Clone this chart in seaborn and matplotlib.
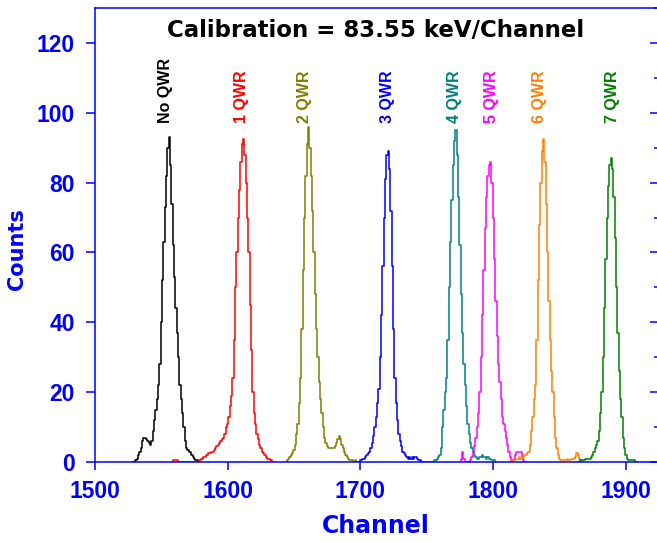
import numpy as np
import pandas as pd
import seaborn as sns
import matplotlib.pyplot as plt
from matplotlib.ticker import MultipleLocator

# spectra: counts per channel, one run per QWR count
runs = ['No QWR', '1 QWR', '2 QWR', '3 QWR', '4 QWR', '5 QWR', '6 QWR', '7 QWR']
colors = ['#000000', '#ff0000', '#808000', '#0000ff', '#008080', '#ff00ff', '#ff8000', '#008000']
first_channel = [1528, 1558, 1643, 1698, 1754, 1775, 1813, 1864]
label_channel = [1553, 1610, 1658, 1720, 1771, 1799, 1835, 1889.5]

counts_no = [0, 0, 0, 0.5, 1, 2, 3, 4, 6, 7, 7, 6.5, 6, 5.5, 5, 6, 9, 12, 15, 18, 22, 28,
             40, 52, 63, 73, 82, 90, 93, 85, 74, 62, 53, 44, 37, 30, 22, 18, 14, 10, 6, 4,
             3.5, 3, 3, 2, 1.5, 1, 0.5, 0.5, 0, 0]
counts_1 = [0, 0.5, 0.5, 0.5, 0.5, 0, 0, 0, 0, 0, 0, 0, 0, 0, 0, 0, 0, 0, 0, 0, 0, 0.5,
            1, 1, 1.5, 1.5, 2, 2, 2.5, 2.5, 3, 3, 3.5, 4, 4.5, 5, 5.5, 6, 6.5, 7, 8, 10, 11,
            13, 16, 19, 24, 35, 50, 60, 70, 78, 86, 91, 92.5, 88, 80, 70, 60, 45, 32, 20,
            14, 11, 8, 6.5, 5, 4, 3, 2.5, 2, 1.5, 1, 1, 0.5, 0.5, 0, 0]
counts_2 = [0, 0, 0.5, 1, 1.5, 2, 2.5, 3.5, 5, 8, 11, 17, 24, 38, 55, 70, 82, 91, 96, 90,
            82, 72, 60, 48, 38, 30, 23, 18, 14, 10, 7, 5.5, 4.5, 4, 4, 4, 4, 4, 4.5, 5.5,
            6.5, 7.5, 6.5, 5, 4, 3, 2, 1.5, 1, 0.5, 0.5, 0.5, 0, 0.5, 0]
counts_3 = [0, 0, 0.5, 0.5, 1, 1, 1.5, 2, 2.5, 3, 4, 5.5, 7.5, 10, 13, 17, 21, 30, 42, 56,
            70, 81, 88, 89, 84, 72, 56, 38, 24, 17, 12, 8, 6, 4.5, 3, 2.5, 2, 1.5, 1, 1.5,
            1, 1.5, 1, 1.5, 1.5, 1, 0.5, 0.5, 0, 0, 0, 0, 0, 0, 0, 0, 0, 0, 0, 0]
counts_4 = [0, 0, 0.5, 0.5, 1, 1.5, 2, 4, 10, 15, 20, 24, 35, 50, 63, 75, 85, 92, 95, 88,
            76, 62, 48, 37, 28, 22, 16, 11, 8, 5.5, 4, 3, 2, 1.5, 1, 1, 1.5, 1.5, 2, 1.5,
            1.5, 1, 1.5, 1, 1, 0.5, 0.5, 0.5, 0, 0]
counts_5 = [0, 1, 3, 1, 0, 0, 0, 0, 0.5, 1.5, 3, 4.5, 7, 10, 14, 20, 30, 42, 55, 67, 76,
            82, 85, 86, 80, 70, 58, 46, 36, 28, 23, 18, 13, 11, 9, 7, 5, 3, 1.5, 0, 0.5,
            1, 2, 3, 3, 3, 3, 1.5, 0.5, 0, 0, 0]
counts_6 = [0, 0.5, 0.5, 0.5, 1, 1, 1, 1.5, 1, 1.5, 1.5, 2, 2, 2.5, 3, 5, 9, 13, 18, 22,
            35, 52, 68, 80, 89, 92.5, 86, 74, 60, 46, 35, 26, 20, 13, 7, 4, 2, 1, 0.5, 0.5,
            0.5, 0.5, 0.5, 1, 0.5, 0.5, 1, 1, 1, 1.5, 2.5, 2, 1, 0.5, 0, 0]
counts_7 = [0, 0, 0.5, 0.5, 0.5, 0.5, 1, 1, 1, 1, 1.5, 2, 3, 4, 5, 6, 9, 14, 20, 30, 44,
            58, 70, 79, 85, 87, 84, 76, 64, 50, 37, 26, 18, 13, 7, 4, 2, 1, 0.5, 0.5, 0.5,
            0.5, 0.5, 0, 0]

all_counts = [counts_no, counts_1, counts_2, counts_3, counts_4, counts_5, counts_6, counts_7]

frames = []
for run, ch0, c in zip(runs, first_channel, all_counts):
    frames.append(pd.DataFrame({'Channel': np.arange(ch0, ch0 + len(c)),
                                'Counts': c, 'run': run}))
spectra = pd.concat(frames, ignore_index=True)

sns.set_style('white')
plt.rcParams['font.family'] = ['DejaVu Sans']
blue = '#0000ff'

fig = plt.figure(figsize=(6.57, 5.42), dpi=100)
ax = fig.add_axes([95 / 657, 80 / 542, 561.5 / 657, 454 / 542])

sns.lineplot(data=spectra, x='Channel', y='Counts', hue='run', hue_order=runs,
             palette=colors, estimator=None, sort=False, lw=1.1, legend=False, ax=ax,
             drawstyle='steps-mid')

ax.set_xlim(1500, 1923)
ax.set_ylim(0, 130)
ax.xaxis.set_major_locator(MultipleLocator(100))
ax.yaxis.set_major_locator(MultipleLocator(20))
ax.yaxis.set_minor_locator(MultipleLocator(10))

for side in ['left', 'bottom', 'top']:
    ax.spines[side].set_color(blue)
    ax.spines[side].set_linewidth(1.1)
    ax.spines[side].set_zorder(3)
ax.spines['right'].set_visible(False)

tick_font = {'family': 'Liberation Sans', 'weight': 'bold', 'size': 16.5}
ax.tick_params(which='both', direction='out', colors=blue, width=1.1)
ax.tick_params(axis='y', which='major', length=6.5, pad=8)
ax.tick_params(axis='y', which='minor', length=3)
ax.tick_params(axis='x', which='major', length=6, pad=7)
ax.tick_params(left=True, bottom=True, top=False, right=False)
for lab in ax.get_xticklabels() + ax.get_yticklabels():
    lab.set_fontproperties(tick_font)
    lab.set_color(blue)

# inward ticks on the right edge, no labels
right = ax.secondary_yaxis('right')
right.yaxis.set_major_locator(MultipleLocator(20))
right.yaxis.set_minor_locator(MultipleLocator(10))
right.spines['right'].set_visible(False)
right.tick_params(which='both', direction='in', colors=blue, width=1.1, labelright=False)
right.tick_params(which='major', length=5)
right.tick_params(which='minor', length=2.5)

ax.set_xlabel('Channel', color=blue, fontsize=17, fontweight='bold', labelpad=8)
ax.set_ylabel('Counts', color=blue, fontsize=15, fontweight='bold')
ax.yaxis.set_label_coords(-0.121, 0.469)

ax.text(0.5, 0.9515, 'Calibration = 83.55 keV/Channel', transform=ax.transAxes,
        ha='center', va='center', fontsize=16.5, fontweight='bold', color='black')

for run, ch, col in zip(runs, label_channel, colors):
    ax.text(ch, 97, run, rotation=90, ha='center', va='bottom', color=col,
            family='Liberation Sans', fontsize=11.5, fontweight='bold')

fig.savefig('out.png', dpi=100)
